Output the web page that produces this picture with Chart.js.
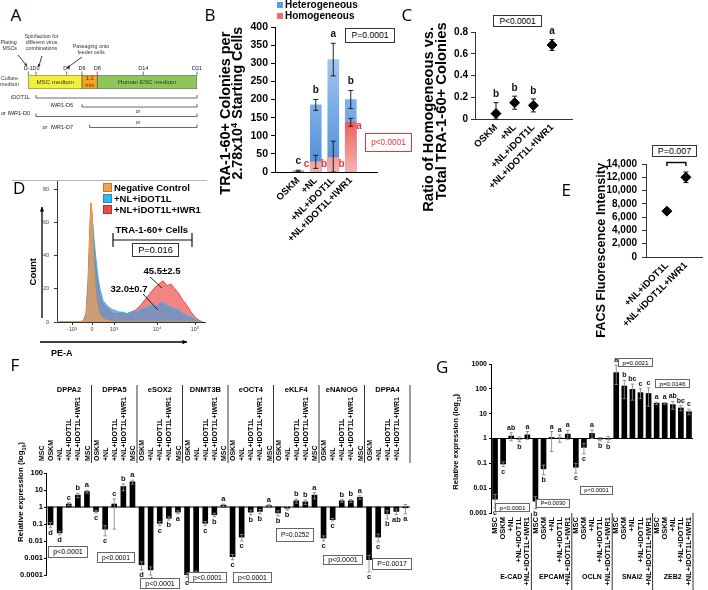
<!DOCTYPE html>
<html><head><meta charset="utf-8">
<script src="https://cdn.jsdelivr.net/npm/chart.js@4.4.1/dist/chart.umd.min.js"></script>
<style>
html,body{margin:0;padding:0;background:#fff}
body{width:708px;height:590px;overflow:hidden;position:relative}
canvas{position:absolute}
.t{position:absolute;white-space:nowrap;line-height:1;color:#000}
.t sub,.t sup{font-size:65%;line-height:0}
</style></head><body>
<script>
// ================= DATA =================
// Panel A (timeline, days)
const aMediaNames = ['MSC medium', '1:1\nmix', 'Human ESC medium'];
const aMediaStart = [-1, 6, 8];
const aMediaEnd = [6, 8, 21];
const aDayTicks = [-1, 0, 4, 6, 8, 14, 21];
const aDayLabels = ['D-1', 'D0', 'D4', 'D6', 'D8', 'D14', 'D21'];
const aTreatNames = ['iDOT1L', 'IWR1-D6', 'or IWR1-D0', 'or  IWR1-D7'];
const aTreatStart = [0, 6, 0, 7];
const aTreatEnd = [21, 21, 21, 21];

// Panel B
const bCats = ['OSKM', '+NL', '+NL+iDOT1L', '+NL+iDOT1L+IWR1'];
const bHetero = [3, 185, 310, 200];
const bHeteroErr = [2, 15, 45, 25];
const bHomo = [0, 28, 40, 137];
const bHomoErr = [0, 18, 45, 11];
const bHeteroLetters = ['c', 'b', 'a', 'b'];
const bHomoLetters = ['c', 'b', 'b', 'a'];
const bYTicks = [0, 50, 100, 150, 200, 250, 300, 350, 400];

// Panel C
const cRatio = [0.05, 0.15, 0.125, 0.68];
const cRatioErr = [0.1, 0.06, 0.06, 0.05];
const cLetters = ['b', 'b', 'b', 'a'];
const cYTicks = [0, 0.2, 0.4, 0.6, 0.8];

// Panel D (flow histogram, display channels)
const dChannels = [0, 10, 20, 26, 29, 31, 33, 34, 35, 36, 37, 39, 41, 43, 46, 50, 54, 58, 62, 66, 70, 74, 78, 82, 86, 90, 94, 98, 102, 106, 110, 114, 118, 122, 126, 130, 134, 138, 142, 146];
const dNegative = [0, 0, 0, 0.5, 3, 15, 55, 72, 65, 45, 30, 14, 7, 4, 2, 1, 0.5, 0, 0, 0, 0, 0, 0, 0, 0, 0, 0, 0, 0, 0, 0, 0, 0, 0, 0, 0, 0, 0, 0, 0];
const dNLiDOT1L = [0, 0, 0, 0.5, 4, 20, 50, 60, 62, 58, 50, 38, 27, 20, 13, 10, 8, 7, 6, 6, 5, 6, 6, 7, 8, 9, 10, 9, 11, 12, 10, 9, 8, 7, 5, 4, 3, 1.5, 0.5, 0];
const dNLiDOT1LIWR1 = [0, 0, 0, 0.5, 5, 25, 60, 72, 66, 55, 45, 33, 23, 16, 11, 8, 6, 5, 5, 5, 5, 6, 7, 9, 12, 15, 18, 21, 23, 25, 22, 23, 20, 17, 13, 10, 6, 3, 1, 0];
const dXTickPos = [15, 35, 57, 100, 138];
const dXTickLabels = ['-10³', '0', '10³', '10⁴', '10⁵'];
const dYTicks = [0, 20, 40, 60, 80];

// Panel E
const eCats = ['+NL+iDOT1L', '+NL+iDOT1L+IWR1'];
const eMFI = [6900, 12000];
const eMFIErr = [250, 800];
const eYTicks = [0, 2000, 4000, 6000, 8000, 10000, 12000, 14000];

// Panel F
const fSamples = ['MSC', 'OSKM', '+NL', '+NL+iDOT1L', '+NL+iDOT1L+IWR1'];
const fGenes = ['DPPA2', 'DPPA5', 'eSOX2', 'DNMT3B', 'eOCT4', 'eKLF4', 'eNANOG', 'DPPA4'];
const fExpr = [
  [0.09, 0.03, 1.5, 5, 8],
  [0.55, 0.05, 1.5, 16, 30],
  [0.0004, 0.0002, 0.11, 0.22, 0.5],
  [0.0001, 0.00013, 0.11, 0.35, 1.3],
  [0.0012, 0.017, 0.5, 0.55, 1.2],
  [0.45, 0.85, 2.3, 2, 5],
  [0.015, 0.18, 2.3, 2.3, 3.7],
  [0.0008, 0.017, 0.4, 0.55, 0.9]];
const fErr = [
  [0.03, 0.007, 0.3, 1.5, 1.5],
  [0.1, 0.03, 1.45, 7, 8],
  [0.0002, 0.0001, 0.03, 0.05, 0.1],
  [0.00003, 0.00004, 0.03, 0.08, 0.2],
  [0.0004, 0.007, 0.15, 0.15, 0.15],
  [0.15, 0.2, 0.6, 0.6, 2],
  [0.005, 0.03, 0.4, 0.5, 0.8],
  [0.00065, 0.008, 0.2, 0.2, 0.5]];
const fLetters = [
  ['d', 'd', 'c', 'b', 'a'],
  ['c', 'c', 'c', 'b', 'a'],
  ['d', 'd', 'c', 'b', 'a'],
  ['c', 'c', 'c', 'b', 'a'],
  ['c', 'c', 'b', 'b', 'a'],
  ['b', 'b', 'b', 'b', 'a'],
  ['c', 'c', 'b', 'b', 'a'],
  ['c', 'c', 'b', 'ab', 'a']];
const fPvals = ['p<0.0001', 'p<0.0001', 'p<0.0001', 'p<0.0001', 'p<0.0001', 'P=0.0252', 'p<0.0001', 'P=0.0017'];
const fYTicks = [0.0001, 0.001, 0.01, 0.1, 1, 10, 100];
const fYTickLabels = ['0.0001', '0.001', '0.01', '0.1', '1', '10', '100'];

// Panel G
const gGenes = ['E-CAD', 'EPCAM', 'OCLN', 'SNAI2', 'ZEB2'];
const gExpr = [
  [0.0036, 0.094, 1.25, 0.95, 1.4],
  [0.003, 0.06, 1.1, 1.05, 1.5],
  [0.07, 0.44, 1.6, 0.95, 0.95],
  [450, 130, 95, 70, 65],
  [26, 26, 23, 17, 12]];
const gErr = [
  [0.002, 0.02, 0.45, 0.2, 0.5],
  [0.0015, 0.025, 0.8, 0.35, 0.6],
  [0.03, 0.2, 0.6, 0.15, 0.25],
  [450, 90, 60, 30, 45],
  [3, 2, 8, 4, 3]];
const gLetters = [
  ['c', 'c', 'ab', 'b', 'a'],
  ['b', 'b', 'a', 'a', 'a'],
  ['c', 'c', 'a', 'b', 'b'],
  ['a', 'b', 'bc', 'c', 'c'],
  ['a', 'a', 'ab', 'bc', 'c']];
const gPvals = ['p<0.0001', 'P=0.0030', 'p<0.0001', 'p=0.0021', 'p=0.0146'];
const gYTicks = [0.001, 0.01, 0.1, 1, 10, 100, 1000];
const gYTickLabels = ['0.001', '0.01', '0.1', '1', '10', '100', '1000'];

// ================= STYLE / HELPERS =================
const FONT = '"Liberation Sans", Arial, sans-serif';
const aMediaColors = ['#f3f03a', '#f4a21f', '#8fc65a'];
function fnt(s, b) { return { family: FONT, size: s, weight: b ? 'bold' : 'normal' }; }
function cf(s, b) { return (b ? 'bold ' : '') + s + 'px ' + FONT; }
function zeroPad(s) { s.paddingLeft = s.paddingRight = s.paddingTop = s.paddingBottom = 0; }
function fixW(w) { return s => { s.width = w; zeroPad(s); }; }
function fixH(h) { return s => { s.height = h; zeroPad(s); }; }
function setTicks(vals) { return s => { s.ticks = vals.map(v => ({ value: v })); }; }
function mk(left, top, w, h, cfg) {
  const c = document.createElement('canvas');
  c.width = w; c.height = h;
  c.style.left = left + 'px'; c.style.top = top + 'px';
  c.style.width = w + 'px'; c.style.height = h + 'px';
  document.body.appendChild(c);
  cfg.options = Object.assign({ responsive: false, maintainAspectRatio: false, animation: false, devicePixelRatio: 1, events: [] }, cfg.options || {});
  cfg.options.plugins = Object.assign({ legend: { display: false }, tooltip: { enabled: false } }, cfg.options.plugins || {});
  return new Chart(c.getContext('2d'), cfg);
}
function txt(ctx, s, x, y, font, color, align) {
  ctx.save(); ctx.font = font; ctx.fillStyle = color || '#000';
  ctx.textAlign = align || 'center'; ctx.textBaseline = 'middle';
  ctx.fillText(s, x, y); ctx.restore();
}
function pl(ctx, pts, color, lw) {
  ctx.save(); ctx.strokeStyle = color || '#000'; ctx.lineWidth = lw || 1; ctx.beginPath();
  pts.forEach((p, i) => i ? ctx.lineTo(p[0], p[1]) : ctx.moveTo(p[0], p[1]));
  ctx.stroke(); ctx.restore();
}
function eb(ctx, x, y1, y2, cap, color, lw) {
  pl(ctx, [[x, y1], [x, y2]], color, lw);
  pl(ctx, [[x - cap / 2, y1], [x + cap / 2, y1]], color, lw);
  pl(ctx, [[x - cap / 2, y2], [x + cap / 2, y2]], color, lw);
}
function arr(ctx, x1, y1, x2, y2, color, lw, hs) {
  pl(ctx, [[x1, y1], [x2, y2]], color, lw);
  const a = Math.atan2(y2 - y1, x2 - x1);
  ctx.save(); ctx.fillStyle = color; ctx.beginPath(); ctx.moveTo(x2, y2);
  ctx.lineTo(x2 - hs * Math.cos(a - 0.45), y2 - hs * Math.sin(a - 0.45));
  ctx.lineTo(x2 - hs * Math.cos(a + 0.45), y2 - hs * Math.sin(a + 0.45));
  ctx.closePath(); ctx.fill(); ctx.restore();
}
// DOM text centred at (x,y)
function T(html, x, y, o = {}) {
  const d = document.createElement('div'); d.className = 't'; d.innerHTML = html;
  let size = o.s || 10;
  d.style.fontFamily = o.f || FONT; d.style.fontWeight = o.b ? 'bold' : 'normal';
  d.style.fontSize = size + 'px'; d.style.color = o.c || '#000';
  document.body.appendChild(d);
  if (o.len) { const w0 = d.getBoundingClientRect().width; size = size * o.len / w0; d.style.fontSize = size + 'px'; }
  const w = d.offsetWidth, h = d.offsetHeight;
  let left = x - w / 2;
  if (!o.rot) { if (o.a === 'l') left = x; else if (o.a === 'r') left = x - w; }
  d.style.left = left + 'px'; d.style.top = (y - h / 2) + 'px';
  if (o.rot) d.style.transform = 'rotate(' + o.rot + 'deg)';
  return d;
}
// boxed p-value label
function PB(text, x1, y1, x2, y2, o = {}) {
  const d = document.createElement('div'); d.className = 't'; d.textContent = text;
  Object.assign(d.style, {
    left: x1 + 'px', top: y1 + 'px', width: (x2 - x1) + 'px', height: (y2 - y1) + 'px', boxSizing: 'border-box',
    border: (o.bw || 1) + 'px solid ' + (o.bc || '#555'), textAlign: 'center', lineHeight: (y2 - y1 - 2) + 'px',
    fontFamily: FONT, color: o.c || '#000', background: '#fff', fontSize: '10px'
  });
  document.body.appendChild(d);
  const m = document.createElement('canvas').getContext('2d'); m.font = '10px ' + FONT;
  const tw = m.measureText(text).width;
  d.style.fontSize = Math.min(10 * (x2 - x1) * (o.fill || 0.74) / tw, (y2 - y1) * 0.8) + 'px';
}
function sq(x, y, s, color, border) {
  const d = document.createElement('div');
  Object.assign(d.style, { position: 'absolute', left: x + 'px', top: y + 'px', width: s + 'px', height: s + 'px', background: color, boxSizing: 'border-box', border: border ? '1px solid ' + border : 'none' });
  document.body.appendChild(d);
}

// ================= PANEL A =================
const aPlugin = {
  id: 'aPlug', afterDraw(chart) {
    const ctx = chart.ctx, X = chart.scales.x, ca = chart.chartArea, off = 30;
    aDayTicks.forEach((d, i) => {
      const px = X.getPixelForValue(d);
      pl(ctx, [[px, ca.top - 3.5], [px, ca.top]], '#333', 0.7);
      txt(ctx, aDayLabels[i], px, ca.top - 7, cf(5.5), '#222');
    });
    aMediaNames.forEach((n, i) => {
      const cx = (X.getPixelForValue(aMediaStart[i]) + X.getPixelForValue(aMediaEnd[i])) / 2;
      const ls = n.split('\n'), cy = (ca.top + ca.bottom) / 2;
      ls.forEach((s, j) => txt(ctx, s, cx, cy + (j - (ls.length - 1) / 2) * 6.5, cf(ls.length > 1 ? 5.5 : 6.2), '#333'));
    });
    const rowY = [98, 107, 116.5, 127.5], labY = [97, 105.5, 113, 127], labX = [30, 73, 30, 73];
    aTreatNames.forEach((n, i) => {
      const x1 = X.getPixelForValue(aTreatStart[i]), x2 = X.getPixelForValue(aTreatEnd[i]), y = rowY[i] - off;
      pl(ctx, [[x1, y - 3], [x1, y], [x2, y], [x2, y - 3]], '#444', 0.8);
      txt(ctx, n, labX[i], labY[i] - off, cf(5.5), '#222', 'right');
    });
    txt(ctx, 'or', 138, 112 - off, cf(5.2), '#333');
    txt(ctx, 'or', 138, 123 - off, cf(5.2), '#333');
    txt(ctx, 'Plating', 0.5, 43 - off, cf(5.3), '#333', 'left');
    txt(ctx, 'MSCs', 2.5, 48.5 - off, cf(5.3), '#333', 'left');
    txt(ctx, 'Spinfaction for', 41.5, 37 - off, cf(5.3), '#333');
    txt(ctx, 'different virus', 41.5, 43 - off, cf(5.3), '#333');
    txt(ctx, 'combinations', 41.5, 49 - off, cf(5.3), '#333');
    txt(ctx, 'Passaging onto', 91, 47 - off, cf(5.3), '#333');
    txt(ctx, 'feeder cells', 91, 53 - off, cf(5.3), '#333');
    txt(ctx, 'Culture', 9.5, 79 - off, cf(5.3), '#333');
    txt(ctx, 'medium', 9.5, 85 - off, cf(5.3), '#333');
    arr(ctx, 18, 55 - off, 27, 66 - off, '#111', 0.8, 3);
    arr(ctx, 42, 56 - off, 38.5, 67 - off, '#111', 0.8, 3);
    arr(ctx, 82, 57 - off, 67, 68 - off, '#111', 0.8, 3);
  }
};
mk(0, 30, 210, 110, {
  type: 'bar',
  data: {
    labels: ['Culture medium'], datasets: aMediaNames.map((n, i) => ({
      label: n, data: [[aMediaStart[i], aMediaEnd[i]]], backgroundColor: aMediaColors[i],
      borderColor: '#666', borderWidth: 0.8, borderSkipped: false, grouped: false, barPercentage: 1, categoryPercentage: 1
    }))
  },
  options: {
    indexAxis: 'y', layout: { padding: { left: 28.3, right: 13, top: 45, bottom: 51 } },
    scales: { x: { type: 'linear', min: -1, max: 21, display: false }, y: { display: false } }
  },
  plugins: [aPlugin]
});

// ================= PANEL B =================
function bGrad(c, c0, c1, vTop) {
  const ch = c.chart; if (!ch.chartArea) return c1;
  const Y = ch.scales.y;
  const g = ch.ctx.createLinearGradient(0, Y.getPixelForValue(0), 0, Y.getPixelForValue(vTop));
  g.addColorStop(0, c0); g.addColorStop(1, c1); return g;
}
const bPlugin = {
  id: 'bPlug', afterDatasetsDraw(chart) {
    const ctx = chart.ctx, X = chart.scales.x, Y = chart.scales.y;
    bCats.forEach((_, i) => {
      const x = X.getPixelForValue(i);
      eb(ctx, x, Y.getPixelForValue(Math.max(0, bHetero[i] - bHeteroErr[i])), Y.getPixelForValue(bHetero[i] + bHeteroErr[i]), 5, '#222', 1);
      if (bHomoErr[i] > 0) eb(ctx, x, Y.getPixelForValue(Math.max(0, bHomo[i] - bHomoErr[i])), Y.getPixelForValue(bHomo[i] + bHomoErr[i]), 5, '#222', 1);
      txt(ctx, bHeteroLetters[i], x, Y.getPixelForValue(bHetero[i] + bHeteroErr[i]) - 9, cf(10, true), '#111');
      const ry = bHomo[i] > 100 ? Y.getPixelForValue(bHomo[i]) + 4 : Y.getPixelForValue(0) - 8;
      txt(ctx, bHomoLetters[i], X.getPixelForValue(i + 0.47), ry, cf(10, true), '#e8373a');
    });
  }
};
mk(214, 0, 206, 250, {
  type: 'bar',
  data: {
    datasets: [
      { label: 'Homogeneous', data: bHomo.map((v, i) => ({ x: i, y: v })), order: 0, grouped: false, barThickness: 11,
        backgroundColor: c => bGrad(c, '#f6b3b3', '#ec5757', 150) },
      { label: 'Heterogeneous', data: bHetero.map((v, i) => ({ x: i, y: v })), order: 1, grouped: false, barThickness: 11,
        backgroundColor: c => bGrad(c, '#4a8edb', '#b2d2f3', 380) }
    ]
  },
  options: {
    layout: { padding: { left: 0, top: 27, right: 43, bottom: 0 } },
    scales: {
      x: { type: 'linear', min: -0.6, max: 3.77, afterBuildTicks: setTicks([0, 1, 2, 3]), afterFit: fixH(78),
        ticks: { callback: v => bCats[v], minRotation: 45, maxRotation: 45, autoSkip: false, font: fnt(9.5, true), color: '#000', padding: 3 },
        grid: { display: false, drawTicks: false }, border: { display: true, color: '#000' } },
      y: { min: 0, max: 400, afterBuildTicks: setTicks(bYTicks), afterFit: fixW(61),
        ticks: { font: fnt(10.5, true), color: '#000', padding: 3, autoSkip: false },
        grid: { drawOnChartArea: false, tickLength: 4, color: '#000' }, border: { color: '#000' } }
    }
  },
  plugins: [bPlugin]
});

// ================= PANEL C =================
const cPlugin = {
  id: 'cPlug', afterDatasetsDraw(chart) {
    const ctx = chart.ctx, X = chart.scales.x, Y = chart.scales.y;
    cRatio.forEach((v, i) => {
      const x = X.getPixelForValue(i), top = Y.getPixelForValue(v + cRatioErr[i]);
      eb(ctx, x, Y.getPixelForValue(Math.max(0, v - cRatioErr[i])), top, 5, '#111', 1);
      txt(ctx, cLetters[i], x, top - 8, cf(10, true), '#111');
    });
  }
};
mk(418, 0, 160, 200, {
  type: 'scatter',
  data: { datasets: [{ data: cRatio.map((v, i) => ({ x: i, y: v })), pointStyle: 'rectRot', pointRadius: 5, backgroundColor: '#000', borderColor: '#000' }] },
  options: {
    layout: { padding: { left: 0, top: 32, right: 6, bottom: 0 } },
    scales: {
      x: { type: 'linear', min: -1.125, max: 4.07, afterBuildTicks: setTicks([0, 1, 2, 3]), afterFit: fixH(81),
        ticks: { callback: v => bCats[v], minRotation: 45, maxRotation: 45, autoSkip: false, font: fnt(9.5, true), color: '#000', padding: 3 },
        grid: { display: false, drawTicks: false }, border: { display: true, color: '#333' } },
      y: { min: 0, max: 0.8, afterBuildTicks: setTicks(cYTicks), afterFit: fixW(57),
        ticks: { font: fnt(10, true), color: '#000', padding: 3, autoSkip: false, callback: v => String(Math.round(v * 10) / 10) },
        grid: { drawOnChartArea: false, tickLength: 4, color: '#333' }, border: { color: '#333' } }
    }
  },
  plugins: [cPlugin]
});

// ================= PANEL D =================
const dPlugin = {
  id: 'dPlug', afterDraw(chart) {
    const ctx = chart.ctx, off = 175;
    pl(ctx, [[12, 180.5 - off], [207, 180.5 - off]], '#b5b5b5', 1);
    arr(ctx, 42, 318 - off, 42, 207 - off, '#000', 1.3, 5);
    arr(ctx, 40, 342 - off, 187, 342 - off, '#000', 1.3, 5);
    pl(ctx, [[113, 233 - off], [113, 247 - off]], '#111', 1.2);
    pl(ctx, [[113, 240 - off], [192, 240 - off]], '#111', 1.2);
    pl(ctx, [[192, 233 - off], [192, 247 - off]], '#111', 1.2);
    pl(ctx, [[150, 277 - off], [162, 288 - off]], '#111', 0.9);
    pl(ctx, [[143, 294 - off], [158, 310 - off]], '#111', 0.9);
  }
};
const dPts = arr2 => dChannels.map((x, i) => ({ x, y: arr2[i] }));
mk(0, 175, 210, 185, {
  type: 'line',
  data: {
    datasets: [
      { label: '+NL+iDOT1L+IWR1', data: dPts(dNLiDOT1LIWR1), fill: 'origin', backgroundColor: 'rgba(240,98,98,0.78)', borderColor: '#e84a44', borderWidth: 1, pointRadius: 0, order: 2 },
      { label: '+NL+iDOT1L', data: dPts(dNLiDOT1L), fill: 'origin', backgroundColor: 'rgba(96,150,205,0.78)', borderColor: '#2fb8f0', borderWidth: 1, pointRadius: 0, order: 1 },
      { label: 'Negative Control', data: dPts(dNegative), fill: 'origin', backgroundColor: 'rgba(222,160,96,0.8)', borderColor: '#f29a3c', borderWidth: 1, pointRadius: 0, order: 0 }
    ]
  },
  options: {
    layout: { padding: { left: 0, top: 5, right: 5, bottom: 0 } },
    scales: {
      x: { type: 'linear', min: 0, max: 148, afterBuildTicks: setTicks(dXTickPos), afterFit: fixH(38),
        ticks: { callback: (v, i) => dXTickLabels[i], font: fnt(5.5), color: '#444', padding: 1, autoSkip: false, maxRotation: 0 },
        grid: { drawOnChartArea: false, tickLength: 3, color: '#333' }, border: { color: '#333' } },
      y: { min: 0, max: 86, afterBuildTicks: setTicks(dYTicks), afterFit: fixW(57),
        ticks: { font: fnt(5.5), color: '#444', padding: 5, autoSkip: false },
        grid: { drawOnChartArea: false, tickLength: 3, color: '#333' }, border: { color: '#333' } }
    }
  },
  plugins: [dPlugin]
});

// ================= PANEL E =================
const ePlugin = {
  id: 'ePlug', afterDatasetsDraw(chart) {
    const ctx = chart.ctx, X = chart.scales.x, Y = chart.scales.y;
    eMFI.forEach((v, i) => {
      const x = X.getPixelForValue(i);
      if (eMFIErr[i] > 300) eb(ctx, x, Y.getPixelForValue(v - eMFIErr[i]), Y.getPixelForValue(v + eMFIErr[i]), 5, '#111', 1);
    });
    const x0 = X.getPixelForValue(0), x1 = X.getPixelForValue(1), y = chart.chartArea.top - 1.5;
    pl(ctx, [[x0, y + 3.5], [x0, y], [x1, y], [x1, y + 3.5]], '#111', 1.5);
  }
};
mk(590, 130, 118, 210, {
  type: 'scatter',
  data: { datasets: [{ data: eMFI.map((v, i) => ({ x: i, y: v })), pointStyle: 'rectRot', pointRadius: 5, backgroundColor: '#000', borderColor: '#000' }] },
  options: {
    layout: { padding: { left: 0, top: 34, right: 3, bottom: 0 } },
    scales: {
      x: { type: 'linear', min: -1.1, max: 1.85, afterBuildTicks: setTicks([0, 1]), afterFit: fixH(83),
        ticks: { callback: v => eCats[v], minRotation: 45, maxRotation: 45, autoSkip: false, font: fnt(9.5, true), color: '#000', padding: 3 },
        grid: { display: false, drawTicks: false }, border: { display: true, color: '#333' } },
      y: { min: 0, max: 14000, afterBuildTicks: setTicks(eYTicks), afterFit: fixW(56),
        ticks: { font: fnt(10, true), color: '#000', padding: 5, autoSkip: false, callback: v => v.toLocaleString('en-US') },
        grid: { drawOnChartArea: false, tickLength: 4, color: '#333' }, border: { color: '#333' } }
    }
  },
  plugins: [ePlugin]
});

// ================= PANEL F / G (log bars) =================
function logBarPlugin(id, expr, err, letters, sepTop, sepBottom, lfs) {
  return {
    id, afterDatasetsDraw(chart) {
      const ctx = chart.ctx, X = chart.scales.x, Y = chart.scales.y, ca = chart.chartArea;
      const y1 = Y.getPixelForValue(1);
      pl(ctx, [[ca.left, y1], [ca.right, y1]], '#000', 1);
      expr.forEach((grp, g) => grp.forEach((v, k) => {
        const i = g * 5 + k, x = X.getPixelForValue(i), e = err[g][k];
        const lo = v - e > 0 ? v - e : v / 3, hi = v + e;
        const yLo = Y.getPixelForValue(lo), yHi = Y.getPixelForValue(hi);
        eb(ctx, x, yLo, yHi, 3.5, '#8a8a8a', 0.9);
        const ly = v < 1 ? yLo + 5 : yHi - 5;
        txt(ctx, letters[g][k], x, ly, cf(lfs, true), '#111');
      }));
      const n = expr.length;
      for (let g = 0; g < n; g++) {
        const bx = g < n - 1 ? (X.getPixelForValue(g * 5 + 4) + X.getPixelForValue(g * 5 + 5)) / 2 : ca.right;
        pl(ctx, [[bx, sepTop], [bx, sepBottom]], '#333', 1);
      }
    }
  };
}
// F
mk(0, 370, 420, 220, {
  type: 'bar',
  data: { labels: fGenes.flatMap(() => fSamples), datasets: [{ data: fExpr.flat().map(v => [1, v]), backgroundColor: '#000', barThickness: 5 }] },
  options: {
    layout: { padding: { left: 0, top: 0, right: 10, bottom: 15 } },
    scales: {
      x: { position: 'top', afterFit: fixH(103),
        ticks: { minRotation: 90, maxRotation: 90, autoSkip: false, font: fnt(7, true), color: '#000', padding: 12 },
        grid: { display: false, drawTicks: false }, border: { display: false } },
      y: { type: 'logarithmic', min: 0.0001, max: 100, afterBuildTicks: setTicks(fYTicks), afterFit: fixW(46),
        ticks: { callback: (v, i) => fYTickLabels[i], font: fnt(7.5, true), color: '#000', padding: 1, autoSkip: false },
        grid: { drawOnChartArea: false, tickLength: 2, color: '#000' }, border: { color: '#000' } }
    }
  },
  plugins: [logBarPlugin('fPlug', fExpr, fErr, fLetters, 15, 93, 7.5)]
});
// G
mk(440, 350, 268, 240, {
  type: 'bar',
  data: { labels: gGenes.flatMap(() => fSamples), datasets: [{ data: gExpr.flat().map(v => [1, v]), backgroundColor: '#000', barThickness: 5 }] },
  options: {
    layout: { padding: { left: 0, top: 14, right: 15, bottom: 0 } },
    scales: {
      x: { position: 'bottom', afterFit: fixH(77),
        ticks: { minRotation: 90, maxRotation: 90, autoSkip: false, font: fnt(7.5, true), color: '#000', padding: 4 },
        grid: { display: false, drawTicks: false }, border: { display: false } },
      y: { type: 'logarithmic', min: 0.001, max: 1000, afterBuildTicks: setTicks(gYTicks), afterFit: fixW(51),
        ticks: { callback: (v, i) => gYTickLabels[i], font: fnt(7, true), color: '#000', padding: 2, autoSkip: false },
        grid: { drawOnChartArea: false, tickLength: 2, color: '#000' }, border: { color: '#000' } }
    }
  },
  plugins: [logBarPlugin('gPlug', gExpr, gErr, gLetters, 163, 240, 7)]
});

// ================= DOM TEXT =================
const PL = '"Open Sans", "Liberation Sans", sans-serif';
T('A', 16, 14, { s: 17, f: PL }); T('B', 210, 14, { s: 17, f: PL }); T('C', 407, 14, { s: 17, f: PL });
T('D', 19, 187, { s: 17, f: PL }); T('E', 566, 189, { s: 17, f: PL }); T('F', 15, 364, { s: 17, f: PL });
T('G', 442, 366, { s: 17, f: PL });

// B
sq(277, 2, 6, '#5b9de0'); T('Heterogeneous', 285, 5, { s: 10, b: 1, a: 'l' });
sq(277, 13, 6, '#ee6f6f'); T('Homogeneous', 285, 16, { s: 10, b: 1, a: 'l' });
T('TRA-1-60+ Colonies per', 225, 113, { b: 1, rot: -90, len: 163, s: 12 });
T('2.78x10<sup>4</sup> Starting Cells', 237, 103, { b: 1, rot: -90, len: 153, s: 12 });
PB('P=0.0001', 345, 28, 395, 43, { bc: '#333' });
PB('p<0.0001', 365, 133, 412, 152, { bc: '#e8373a', c: '#e8373a' });

// C
T('Ratio of Homogeneous vs.', 428.5, 119, { b: 1, rot: -90, len: 185, s: 12 });
T('Total TRA-1-60+ Colonies', 441, 111, { b: 1, rot: -90, len: 178, s: 12 });
PB('P<0.0001', 493, 15, 542, 27, { bc: '#333' });

// D
sq(103, 183, 9, '#f4a04c', '#c77a2a'); T('Negative Control', 114, 188, { s: 9.5, b: 1, a: 'l' });
sq(103, 194, 9, '#35b9ef', '#1f8fc0'); T('+NL+iDOT1L', 114, 199, { s: 9.5, b: 1, a: 'l' });
sq(103, 205, 9, '#f04848', '#c02a2a'); T('+NL+iDOT1L+IWR1', 114, 210, { s: 9.5, b: 1, a: 'l' });
T('TRA-1-60+ Cells', 152, 230, { s: 9.5, b: 1 });
PB('P=0.016', 132, 243, 179, 257, { bc: '#333' });
T('45.5±2.5', 162, 271, { s: 9.5, b: 1 });
T('32.0±0.7', 129, 289, { s: 9.5, b: 1 });
T('Count', 32, 272, { s: 9.5, b: 1, rot: -90 });
T('PE-A', 62, 353, { s: 9, b: 1 });

// E
T('FACS Fluorescence Intensity', 601, 250, { b: 1, rot: -90, len: 175, s: 12 });
PB('P=0.007', 652, 145, 697, 157, { bc: '#333' });

// F
T('Relative expression (log<sub>10</sub>)', 21, 492, { b: 1, rot: -90, len: 100, s: 9 });
const fGroupX0 = 46, fGroupW = (410 - 46) / 8;
fGenes.forEach((g, i) => T(g, fGroupX0 + fGroupW * (i + 0.5), 390, { s: 7.5, b: 1 }));
const fBoxes = [[48, 546, 88, 558], [97, 552, 135, 563], [140, 578, 180, 589], [188, 572, 227, 583], [233, 572, 272, 583], [276, 528, 314, 542], [323, 555, 363, 565], [372, 558, 412, 570]];
fPvals.forEach((p, i) => PB(p, ...fBoxes[i], { bc: '#666' }));

// G
T('Relative expression (log<sub>10</sub>)', 456, 442, { b: 1, rot: -90, len: 96, s: 9 });
const gGroupX0 = 491, gGroupW = (693 - 491) / 5;
gGenes.forEach((g, i) => T(g, gGroupX0 + gGroupW * (i + 0.5), 576, { s: 7, b: 1 }));
const gBoxes = [[495, 503, 530, 512], [536, 499, 570, 508], [580, 486, 613, 495], [618, 358, 653, 367], [655, 379, 690, 388]];
gPvals.forEach((p, i) => PB(p, ...gBoxes[i], { bc: '#666' }));
</script>
</body></html>
